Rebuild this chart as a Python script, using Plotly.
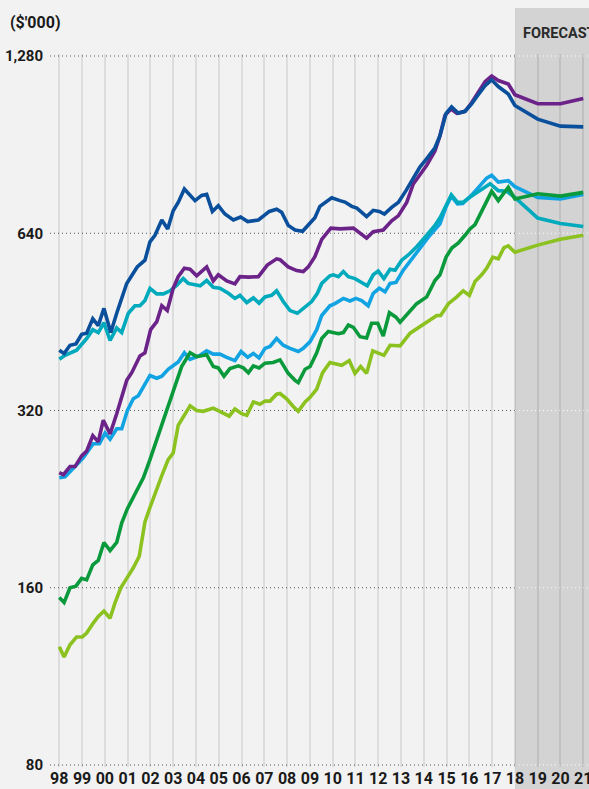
import plotly.graph_objects as go

# ---------------- data (values in $'000, x in decimal years) ----------------
dark_blue_years = [1998.00,1998.21,1998.47,1998.73,1998.98,1999.20,1999.47,1999.71,1999.96,2000.26,2000.52,2000.96,2001.42,2001.76,2001.98,2002.20,2002.50,2002.76,2003.00,2003.22,2003.49,2003.96,2004.25,2004.47,2004.72,2004.98,2005.27,2005.64,2005.96,2006.27,2006.74,2007.22,2007.54,2007.76,2008.05,2008.35,2008.68,2008.93,2009.22,2009.44,2009.96,2010.32,2010.54,2010.84,2011.06,2011.49,2011.78,2012.05,2012.27,2012.59,2012.88,2013.22,2013.54,2013.83,2014.13,2014.49,2014.71,2014.98,2015.22,2015.52,2015.81,2016.10,2016.39,2016.69,2016.98,2017.27,2017.71,2018.00,2019.00,2020.00,2021.00]
dark_blue_values = [405,400,413,415,431,433,458,446,477,434,468,526,561,576,619,635,674,651,699,722,761,727,742,745,697,713,690,674,682,670,674,697,703,695,660,648,645,660,680,711,735,727,723,711,706,683,700,697,690,708,722,756,796,829,857,894,937,1023,1049,1023,1031,1061,1100,1140,1166,1136,1103,1055,1000,973,970]

purple_years = [1998.00,1998.18,1998.47,1998.69,1998.98,1999.20,1999.47,1999.71,1999.93,2000.23,2000.52,2000.96,2001.18,2001.54,2001.76,2002.01,2002.28,2002.50,2002.74,2003.00,2003.22,2003.49,2003.74,2004.03,2004.47,2004.76,2004.98,2005.35,2005.71,2005.93,2006.30,2006.74,2007.13,2007.54,2007.69,2008.05,2008.42,2008.71,2008.93,2009.22,2009.52,2009.92,2010.32,2010.91,2011.49,2011.78,2012.22,2012.59,2012.88,2013.25,2013.54,2013.83,2014.13,2014.49,2014.71,2014.93,2015.20,2015.45,2015.81,2016.10,2016.39,2016.69,2016.98,2017.27,2017.71,2018.00,2019.00,2020.00,2021.00]
purple_values = [251,249,257,257,268,273,290,283,308,292,316,360,371,396,401,439,453,482,473,516,540,558,556,542,561,531,544,531,525,540,539,540,565,579,577,561,553,551,561,584,625,653,651,653,628,644,648,672,685,722,776,804,835,883,937,1015,1040,1023,1031,1066,1107,1158,1184,1163,1147,1100,1062,1062,1084]

teal_years = [1998.00,1998.25,1998.76,1999.20,1999.47,1999.71,1999.96,2000.23,2000.52,2000.74,2001.03,2001.32,2001.54,2001.76,2001.98,2002.28,2002.57,2002.86,2003.15,2003.44,2003.66,2004.18,2004.47,2004.76,2005.05,2005.42,2005.71,2005.93,2006.23,2006.52,2006.77,2007.03,2007.32,2007.54,2007.83,2008.13,2008.45,2008.79,2009.08,2009.33,2009.52,2009.88,2010.03,2010.25,2010.47,2010.69,2010.98,2011.27,2011.52,2011.78,2012.00,2012.25,2012.52,2012.74,2013.03,2013.32,2013.69,2014.13,2014.49,2014.73,2014.98,2015.21,2015.48,2015.71,2016.10,2016.54,2016.91,2017.27,2017.64,2018.00,2019.00,2020.00,2021.00]
teal_values = [391,397,405,424,439,434,451,421,442,434,468,482,482,492,516,505,505,511,522,536,526,521,532,518,516,506,496,502,488,497,487,499,502,511,490,473,468,479,490,506,526,542,544,540,551,540,536,528,521,544,552,536,556,554,576,588,607,635,660,682,714,744,722,722,740,761,777,756,754,736,679,665,657]

light_blue_years = [1998.00,1998.25,1998.69,1999.05,1999.49,1999.76,2000.01,2000.23,2000.52,2000.74,2000.99,2001.25,2001.47,2001.76,2001.98,2002.28,2002.50,2002.78,2003.22,2003.49,2003.74,2004.18,2004.47,2004.76,2005.05,2005.35,2005.71,2005.98,2006.27,2006.52,2006.77,2007.03,2007.25,2007.54,2007.83,2008.13,2008.49,2008.71,2009.01,2009.30,2009.52,2009.88,2010.10,2010.47,2010.76,2011.02,2011.27,2011.56,2011.78,2012.05,2012.30,2012.52,2012.78,2013.10,2013.54,2013.83,2014.27,2014.71,2014.98,2015.21,2015.48,2015.71,2016.10,2016.47,2016.76,2016.98,2017.27,2017.71,2018.00,2019.00,2020.00,2021.00]
light_blue_values = [246,247,257,266,281,281,293,286,298,298,320,335,339,354,367,363,366,376,387,401,391,397,404,399,399,394,389,403,394,400,393,408,411,424,413,408,403,408,419,439,464,482,486,496,491,496,492,482,506,516,509,526,528,554,583,604,635,664,710,740,718,719,743,771,794,803,782,786,768,736,732,745]

green_years = [1998.00,1998.21,1998.47,1998.73,1998.98,1999.20,1999.47,1999.71,1999.96,2000.23,2000.52,2000.74,2000.99,2001.32,2001.69,2001.98,2002.28,2002.64,2003.00,2003.37,2003.74,2004.03,2004.47,2004.76,2004.98,2005.23,2005.49,2005.86,2006.08,2006.30,2006.52,2006.77,2007.03,2007.39,2007.69,2008.05,2008.35,2008.49,2008.79,2009.01,2009.30,2009.52,2009.81,2010.25,2010.47,2010.69,2010.91,2011.20,2011.49,2011.71,2011.98,2012.22,2012.49,2012.78,2012.96,2013.32,2013.69,2014.13,2014.49,2014.71,2014.98,2015.23,2015.52,2015.81,2016.03,2016.25,2016.61,2016.98,2017.27,2017.71,2018.00,2019.00,2020.00,2021.00]
green_values = [154,151,160,161,166,165,175,178,191,185,191,206,218,231,246,264,286,314,348,380,401,395,398,380,378,366,377,381,378,371,381,378,385,386,390,370,360,357,376,380,401,424,436,432,434,447,443,427,425,450,450,428,469,461,452,468,486,499,532,544,583,604,616,635,651,662,706,754,727,766,732,747,740,751]

light_green_years = [1998.00,1998.21,1998.47,1998.76,1999.01,1999.20,1999.47,1999.71,1999.96,2000.23,2000.45,2000.70,2000.96,2001.25,2001.51,2001.76,2001.98,2002.28,2002.50,2002.78,2003.00,2003.22,2003.49,2003.74,2004.03,2004.32,2004.76,2005.05,2005.46,2005.71,2006.01,2006.23,2006.52,2006.81,2007.03,2007.25,2007.54,2007.69,2007.98,2008.27,2008.49,2008.79,2009.01,2009.30,2009.56,2009.88,2010.03,2010.40,2010.73,2010.98,2011.23,2011.49,2011.76,2012.00,2012.25,2012.52,2012.96,2013.40,2013.83,2014.13,2014.57,2014.74,2015.08,2015.45,2015.73,2016.00,2016.25,2016.54,2016.76,2017.03,2017.27,2017.52,2017.71,2018.00,2019.00,2020.00,2021.00]
light_green_values = [127,122,128,132,132,134,139,143,146,142,151,160,166,173,181,207,219,236,248,264,271,302,314,326,320,319,323,319,313,322,316,314,331,328,332,332,341,342,335,325,319,331,337,348,371,386,385,382,389,370,380,370,404,401,397,413,412,433,444,453,464,464,486,499,511,502,530,544,558,583,579,605,609,594,611,625,635]

x_tick_years = list(range(1998, 2022))
x_tick_labels = ["98", "99", "00", "01", "02", "03", "04", "05", "06", "07", "08", "09",
                 "10", "11", "12", "13", "14", "15", "16", "17", "18", "19", "20", "21"]
y_tick_values = [80, 160, 320, 640, 1280]
y_tick_labels = ["80", "160", "320", "640", "1,280"]
forecast_start = 2018
unit_label = "($'000)"
forecast_label = "FORECAST"

# ---------------- styling ----------------
FONT = "Roboto"
W, H = 589, 789
M_L, M_R, M_T, M_B = 50, 0, 54, 22
plot_w = W - M_L - M_R
plot_h = H - M_T - M_B
X_RANGE = [1997.592, 2021.253]
Y_RANGE = [1.8997, 3.1106]

series = [
    ("Light blue", light_blue_years, light_blue_values, "#12a3e3"),
    ("Teal", teal_years, teal_values, "#00aabd"),
    ("Light green", light_green_years, light_green_values, "#8cc21f"),
    ("Green", green_years, green_values, "#0a9a3c"),
    ("Purple", purple_years, purple_values, "#6c2389"),
    ("Dark blue", dark_blue_years, dark_blue_values, "#0a4f9c"),
]

fig = go.Figure()
for name, xs, ys, col in series:
    assert len(xs) == len(ys), name
    fig.add_trace(go.Scatter(x=xs, y=ys, mode="lines", name=name,
                             line=dict(color=col, width=3.6),
                             hoverinfo="skip"))

shapes = [
    dict(type="rect", xref="x", yref="paper", x0=forecast_start, x1=X_RANGE[1],
         y0=-(M_B + 10) / plot_h, y1=1 + (M_T - 8) / plot_h,
         fillcolor="#d3d3d3", line=dict(width=0), layer="below"),
]
for v in y_tick_values:
    shapes.append(dict(type="line", xref="x", yref="y", x0=X_RANGE[0], x1=forecast_start,
                       y0=v, y1=v, line=dict(color="#555555", width=1.2, dash="1px,3px"),
                       layer="below"))
    shapes.append(dict(type="line", xref="x", yref="y", x0=forecast_start, x1=X_RANGE[1],
                       y0=v, y1=v, line=dict(color="#ffffff", width=1.2, dash="1px,3px"),
                       layer="below"))

fig.update_layout(
    width=W, height=H,
    margin=dict(l=M_L, r=M_R, t=M_T, b=M_B, pad=0, autoexpand=False),
    paper_bgcolor="#f2f2f2",
    plot_bgcolor="rgba(0,0,0,0)",
    showlegend=False,
    shapes=shapes,
    font=dict(family=FONT, color="#1a1a1a"),
    annotations=[
        dict(text="<b>" + unit_label + "</b>", xref="paper", yref="paper",
             x=(8 - M_L) / plot_w, y=1 + (M_T - 22) / plot_h,
             xanchor="left", yanchor="middle", showarrow=False,
             font=dict(size=16, family=FONT, color="#1a1a1a")),
        dict(text="<b>" + forecast_label + "</b>", xref="paper", yref="paper",
             x=(521 - M_L) / plot_w, y=1 + (M_T - 33) / plot_h,
             xanchor="left", yanchor="middle", showarrow=False,
             font=dict(size=14.5, family=FONT, color="#2a2a2a")),
    ],
)
fig.update_xaxes(
    range=X_RANGE, tickmode="array", tickvals=x_tick_years,
    ticktext=["<b>" + t + "</b>" for t in x_tick_labels],
    tickfont=dict(size=16, family=FONT, color="#1a1a1a"),
    ticklabeloverflow="allow", automargin=False,
    showgrid=True, gridcolor="rgba(0,0,0,0.085)", gridwidth=1.5,
    zeroline=False, showline=False,
    ticks="", fixedrange=True,
)
fig.update_yaxes(
    type="log", range=Y_RANGE, tickmode="array", tickvals=y_tick_values,
    ticktext=["<b>" + t + "</b>" for t in y_tick_labels],
    tickfont=dict(size=15, family=FONT, color="#1a1a1a"),
    automargin=False,
    showgrid=False, zeroline=False, showline=False,
    ticks="outside", ticklen=3, tickcolor="rgba(0,0,0,0)", fixedrange=True,
)

fig.write_html(
    "out.html",
    config={"displayModeBar": False},
    post_script="document.body.style.margin='0';"
                "document.documentElement.style.overflow='hidden';"
                "document.body.style.overflow='hidden';",
)
